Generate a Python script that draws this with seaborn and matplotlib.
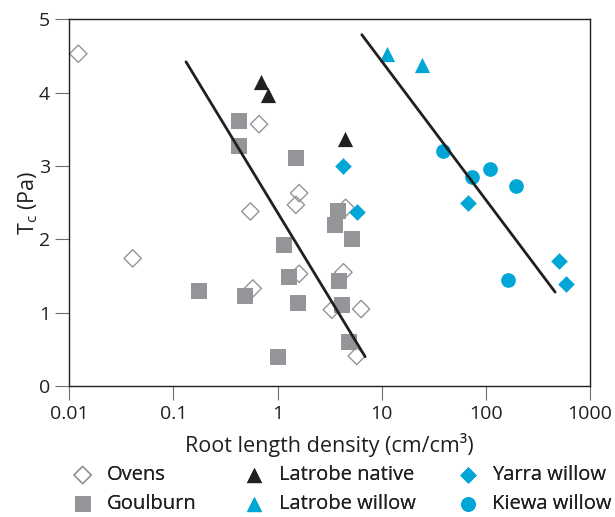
import matplotlib
matplotlib.use("Agg")
import matplotlib.pyplot as plt
import seaborn as sns

# Data (root length density cm/cm3, Tc Pa)
ovens_x = [0.0122, 0.0406, 0.664, 0.548, 1.61, 1.50, 4.50, 1.61, 4.29, 0.578, 3.32, 6.34, 5.76]
ovens_y = [4.53, 1.74, 3.57, 2.38, 2.63, 2.47, 2.43, 1.53, 1.55, 1.33, 1.04, 1.05, 0.41]

goulburn_x = [0.427, 0.427, 1.51, 3.81, 3.57, 5.20, 1.15, 0.176, 0.488, 1.29, 1.57, 3.90, 4.17, 4.87, 1.01]
goulburn_y = [3.61, 3.27, 3.11, 2.38, 2.20, 2.01, 1.92, 1.30, 1.23, 1.49, 1.13, 1.43, 1.10, 0.60, 0.40]

latrobe_native_x = [0.695, 0.817, 4.45]
latrobe_native_y = [4.15, 3.97, 3.37]

latrobe_willow_x = [11.2, 24.3]
latrobe_willow_y = [4.53, 4.37]

yarra_x = [4.23, 5.77, 68.1, 506, 590]
yarra_y = [3.00, 2.37, 2.49, 1.70, 1.39]

kiewa_x = [38.6, 73.4, 110, 194, 162]
kiewa_y = [3.20, 2.85, 2.96, 2.73, 1.45]

# fitted lines (end points)
native_line_x = [0.132, 6.93]
native_line_y = [4.42, 0.40]
willow_line_x = [6.44, 463]
willow_line_y = [4.79, 1.28]

x_ticks = [0.01, 0.1, 1, 10, 100, 1000]
x_tick_labels = ["0.01", "0.1", "1", "10", "100", "1000"]
y_ticks = [0, 1, 2, 3, 4, 5]

INK = "#231f20"
GREY = "#939598"
BLUE = "#00a6d6"

sns.set_style("ticks")
plt.rcParams["font.family"] = ["Open Sans", "DejaVu Sans"]
plt.rcParams["mathtext.fontset"] = "custom"
plt.rcParams["mathtext.rm"] = "Open Sans"
plt.rcParams["text.color"] = INK
plt.rcParams["axes.labelcolor"] = INK

fig = plt.figure(figsize=(6.15, 5.17), dpi=100)
ax = fig.add_axes([0.1127, 0.2534, 0.9593 - 0.1127, 0.9627 - 0.2534])

# Open diamonds first so squares sit on top
sns.scatterplot(x=ovens_x, y=ovens_y, ax=ax, marker="D", s=78, color=GREY,
                facecolor="none", edgecolor=GREY, linewidth=1.0, label="Ovens", zorder=2)
sns.scatterplot(x=goulburn_x, y=goulburn_y, ax=ax, marker="s", s=128, color=GREY,
                linewidth=0, label="Goulburn", zorder=3)
sns.scatterplot(x=latrobe_native_x, y=latrobe_native_y, ax=ax, marker="^", s=120, color=INK,
                linewidth=0, label="Latrobe native", zorder=3)
sns.scatterplot(x=latrobe_willow_x, y=latrobe_willow_y, ax=ax, marker="^", s=120, color=BLUE,
                linewidth=0, label="Latrobe willow", zorder=3)
sns.scatterplot(x=yarra_x, y=yarra_y, ax=ax, marker="D", s=72, color=BLUE,
                linewidth=0, label="Yarra willow", zorder=3)
sns.scatterplot(x=kiewa_x, y=kiewa_y, ax=ax, marker="o", s=112, color=BLUE,
                linewidth=0, label="Kiewa willow", zorder=3)

sns.lineplot(x=native_line_x, y=native_line_y, ax=ax, color=INK, linewidth=2.0, zorder=4)
sns.lineplot(x=willow_line_x, y=willow_line_y, ax=ax, color=INK, linewidth=2.0, zorder=4)

ax.set_xscale("log")
ax.set_xlim(0.01, 1000)
ax.set_ylim(0, 5)
ax.set_xticks(x_ticks)
ax.set_xticklabels(x_tick_labels)
ax.minorticks_off()
ax.set_yticks(y_ticks)
ax.tick_params(axis="both", direction="out", length=10, width=0.8, color="#6d6e71",
               labelsize=14, labelcolor=INK, pad=4)
for side in ["top", "right", "left", "bottom"]:
    ax.spines[side].set_visible(True)
    ax.spines[side].set_color(INK)
    ax.spines[side].set_linewidth(1.0)

ax.set_xlabel("Root length density (cm/cm³)", fontsize=15.5, labelpad=7)
ax.set_ylabel(r"T$_\mathregular{c}$ (Pa)", fontsize=15.5, labelpad=-1)

# Legend: three columns placed under the axes
handles, labels = ax.get_legend_handles_labels()
ax.get_legend().remove()
col_x = [0.118, 0.397, 0.744]
for i, cx in enumerate(col_x):
    leg = fig.legend(handles[2 * i:2 * i + 2], labels[2 * i:2 * i + 2], loc="upper left",
                     bbox_to_anchor=(cx, 0.1), frameon=False, fontsize=14.5,
                     handlelength=1.0, handletextpad=0.72, labelspacing=0.45,
                     borderaxespad=0, borderpad=0)
    fig.add_artist(leg)

fig.savefig("out.png", dpi=100)
